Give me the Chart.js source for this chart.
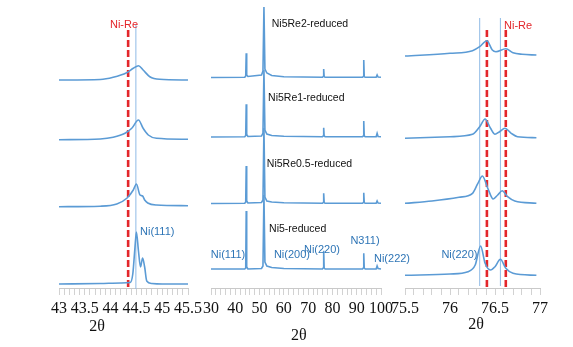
<!DOCTYPE html>
<html>
<head>
<meta charset="utf-8">
<script src="https://cdn.jsdelivr.net/npm/chart.js@4/dist/chart.umd.min.js"></script>
<style>
  html, body { margin: 0; padding: 0; background: #ffffff; }
  #wrap { position: relative; width: 573px; height: 347px; overflow: hidden; }
  canvas { position: absolute; top: 0; }
</style>
</head>
<body>
<div id="wrap">
  <canvas id="c1" width="189" height="347" style="left:29px"></canvas>
  <canvas id="c2" width="230" height="347" style="left:181px"></canvas>
  <canvas id="c3" width="195" height="347" style="left:375px"></canvas>
</div>
<script>
// ---------------- DATA ----------------
const seriesNames = ['Ni5-reduced', 'Ni5Re0.5-reduced', 'Ni5Re1-reduced', 'Ni5Re2-reduced'];
const axisTitle = '2θ';

// Panel 1: Ni(111) region, 2θ 43–45.5 (intensity a.u., offset stacked)
const p1Ni5X    = [43.0, 43.8, 44.2, 44.38, 44.43, 44.47, 44.50, 44.54, 44.58, 44.62, 44.66, 44.70, 44.8, 45.0, 45.5];
const p1Ni5Y    = [5, 5.5, 6, 6.5, 15, 40, 57, 38, 22, 31, 22, 8, 5.5, 5, 5];
const p1Re05X   = [43.0, 43.8, 44.12, 44.32, 44.44, 44.50, 44.57, 44.62, 44.66, 44.72, 44.89, 45.5];
const p1Re05Y   = [82.3, 82.8, 85, 91, 99, 105, 94, 93, 89, 86, 84, 83.3];
const p1Re1X    = [43.0, 43.8, 44.05, 44.28, 44.41, 44.54, 44.63, 44.73, 44.89, 45.5];
const p1Re1Y    = [149.3, 150, 151.7, 155.7, 160.7, 169, 160.7, 154, 150.7, 149.7];
const p1Re2X    = [43.0, 43.8, 44.05, 44.31, 44.44, 44.54, 44.63, 44.76, 44.95, 45.5];
const p1Re2Y    = [209, 209.5, 211.7, 216.3, 220.7, 223.3, 219, 212.3, 209.7, 209];
const p1NiReLine = 44.34;   // red dashed reference
const p1NiLine   = 44.49;   // thin blue reference
const p1Ticks = ['43', '43.5', '44', '44.5', '45', '45.5'];

// Panel 2: full pattern, 2θ 30–100
const p2Theta = [30, 43.9, 44.3, 44.5, 44.7, 45.2, 50.8, 51.4, 51.8, 52.2, 53.0, 55.0, 60.0, 75.9, 76.2, 76.4, 76.6, 77.0, 92.4, 92.7, 92.9, 93.1, 93.5, 98.0, 98.4, 98.8, 100];
const p2Ni5  = [20, 20, 21, 78, 22, 20, 20.5, 23, 94, 27, 23, 21.5, 20.5, 20, 21, 38.3, 21, 20, 20, 21, 35.7, 21, 20, 20, 23, 20.5, 20];
const p2Re05 = [85.5, 85.7, 87, 123, 88, 86, 86.5, 89, 161, 92, 88, 87, 86.3, 85.7, 86.5, 95.7, 86.5, 85.7, 85.7, 86.5, 96.3, 86.5, 85.7, 85.7, 88, 86, 85.7];
const p2Re1  = [152, 152.3, 153.5, 184.7, 154.5, 152.5, 153, 156, 219, 159, 155, 153.5, 152.8, 152.3, 153, 161.3, 153, 152.3, 152.3, 153, 168, 153, 152.3, 152.3, 155.7, 152.5, 152.3];
const p2Re2  = [211.5, 211.7, 213, 235.7, 214, 212.5, 214, 218, 282, 220, 216, 213.5, 212.3, 211.7, 212.5, 220, 212.5, 211.7, 211.7, 212.5, 229, 212.5, 211.7, 211.7, 214, 212, 211.7];
const p2Ticks = ['30', '40', '50', '60', '70', '80', '90', '100'];
const p2Peaks = ['Ni(111)', 'Ni(200)', 'Ni(220)', 'N311)', 'Ni(222)'];

// Panel 3: Ni(220) region, 2θ 75.5–77
const p3Ni5X  = [75.5, 76.0, 76.2, 76.28, 76.34, 76.39, 76.45, 76.5, 76.56, 76.62, 76.7, 76.96];
const p3Ni5Y  = [13.7, 15, 17.3, 24, 43, 25.7, 19, 22.3, 29.7, 20.7, 15.7, 13.7];
const p3Re05X = [75.5, 75.8, 76.1, 76.25, 76.31, 76.36, 76.42, 76.48, 76.53, 76.58, 76.64, 76.72, 76.96];
const p3Re05Y = [85.7, 88, 91.7, 95.7, 105.7, 113, 100.7, 90, 94, 98.3, 92.3, 88, 85.7];
const p3Re1X  = [75.5, 76.0, 76.25, 76.33, 76.39, 76.45, 76.5, 76.55, 76.61, 76.68, 76.75, 76.96];
const p3Re1Y  = [150.7, 152.3, 154.7, 162.3, 170, 160.7, 154.7, 157.3, 160.7, 155.7, 152.3, 151.3];
const p3Re2X  = [75.5, 76.0, 76.25, 76.33, 76.41, 76.47, 76.51, 76.62, 76.7, 76.8, 76.96];
const p3Re2Y  = [233, 235.7, 238.3, 242.3, 248.3, 239, 237.3, 240.3, 236.3, 234.7, 234];
const p3NiLines   = [76.33, 76.56];
const p3NiReLines = [76.41, 76.62];
const p3Ticks = ['75.5', '76', '76.5', '77'];

// ---------------- STYLE ----------------
const CURVE = '#5b9bd5';
const THIN = '#8fbbe6';
const RED = '#e3262b';
const LABEL_BLUE = '#2e75b6';
const SERIF = '"Liberation Serif", "Times New Roman", serif';
const SANS = '"Liberation Sans", Arial, sans-serif';

function pts(xs, ys) { return xs.map((x, i) => ({ x: x, y: ys[i] })); }
function curve(xs, ys, smooth) {
  return { data: pts(xs, ys), borderColor: CURVE, borderWidth: 1.6, pointRadius: 0,
           cubicInterpolationMode: smooth ? 'monotone' : 'default', tension: smooth ? 0.4 : 0, clip: false };
}
function vline(x, y0, y1, red) {
  return { data: [{ x: x, y: y0 }, { x: x, y: y1 }], borderColor: red ? RED : THIN,
           borderWidth: red ? 2.6 : 1, borderDash: red ? [7, 3] : [], pointRadius: 0, clip: false };
}

const notesPlugin = {
  id: 'notes',
  afterDatasetsDraw(chart, args, opts) {
    const ctx = chart.ctx, xs = chart.scales.x, ys = chart.scales.y;
    (opts.items || []).forEach(it => {
      ctx.save();
      ctx.font = it.font;
      ctx.fillStyle = it.color;
      ctx.textAlign = it.align || 'left';
      ctx.textBaseline = 'middle';
      const px = xs.getPixelForValue(it.x);
      const py = it.py !== undefined ? it.py : ys.getPixelForValue(it.y);
      ctx.fillText(it.text, px, py);
      ctx.restore();
    });
  }
};

function makeChart(id, datasets, xmin, xmax, step, labels, notes) {
  const isLabel = v => labels.indexOf(String(Number(v.toFixed(2)))) >= 0;
  return new Chart(document.getElementById(id), {
    type: 'line',
    data: { datasets: datasets },
    options: {
      responsive: false, animation: false, devicePixelRatio: 1,
      layout: { padding: { left: 30, right: 30, top: 5, bottom: 0 } },
      plugins: { legend: { display: false }, tooltip: { enabled: false }, notes: { items: notes } },
      scales: {
        x: {
          type: 'linear', min: xmin, max: xmax,
          border: { display: true, color: '#c9c9c9', width: 1 },
          grid: { drawOnChartArea: false, drawTicks: true, tickLength: 7, color: '#d2d2d2' },
          ticks: {
            stepSize: step, autoSkip: false, maxRotation: 0, padding: 4,
            color: '#111', font: { family: SERIF, size: 16 },
            callback: v => isLabel(v) ? String(Number(v.toFixed(2))) : ''
          },
          afterFit: s => { s.height = 59; }
        },
        y: { display: false, min: 1, max: 284 }
      }
    },
    plugins: [notesPlugin]
  });
}

// Panel 1
makeChart('c1', [
  curve(p1Ni5X, p1Ni5Y, true), curve(p1Re05X, p1Re05Y, true),
  curve(p1Re1X, p1Re1Y, true), curve(p1Re2X, p1Re2Y, true),
  vline(p1NiLine, 0, 264, false), vline(p1NiReLine, 2, 259, true)
], 43, 45.5, 0.1, p1Ticks, [
  { text: 'Ni-Re', x: 44.26, y: 264, font: '11px ' + SANS, color: RED, align: 'center' },
  { text: 'Ni(111)', x: 44.57, y: 57, font: '11px ' + SANS, color: LABEL_BLUE, align: 'left' },
  { text: axisTitle, x: 43.74, py: 327, font: '16px ' + SERIF, color: '#111', align: 'center' }
]);

// Panel 2
makeChart('c2', [
  curve(p2Theta, p2Ni5, false), curve(p2Theta, p2Re05, false),
  curve(p2Theta, p2Re1, false), curve(p2Theta, p2Re2, false)
], 30, 100, 2, p2Ticks, [
  { text: seriesNames[3], x: 55.0, y: 265, font: '10.5px ' + SANS, color: '#111', align: 'left' },
  { text: seriesNames[2], x: 53.5, y: 191, font: '10.5px ' + SANS, color: '#111', align: 'left' },
  { text: seriesNames[1], x: 53.0, y: 125, font: '10.5px ' + SANS, color: '#111', align: 'left' },
  { text: seriesNames[0], x: 53.9, y: 60, font: '10.5px ' + SANS, color: '#111', align: 'left' },
  { text: p2Peaks[0], x: 37.0, y: 34, font: '11px ' + SANS, color: LABEL_BLUE, align: 'center' },
  { text: p2Peaks[1], x: 55.9, y: 34, font: '11px ' + SANS, color: LABEL_BLUE, align: 'left' },
  { text: p2Peaks[2], x: 75.7, y: 39, font: '11px ' + SANS, color: LABEL_BLUE, align: 'center' },
  { text: p2Peaks[3], x: 93.4, y: 48, font: '11px ' + SANS, color: LABEL_BLUE, align: 'center' },
  { text: p2Peaks[4], x: 97.1, y: 30, font: '11px ' + SANS, color: LABEL_BLUE, align: 'left' },
  { text: axisTitle, x: 66.2, py: 336, font: '16px ' + SERIF, color: '#111', align: 'center' }
]);

// Panel 3
makeChart('c3', [
  curve(p3Ni5X, p3Ni5Y, true), curve(p3Re05X, p3Re05Y, true),
  curve(p3Re1X, p3Re1Y, true), curve(p3Re2X, p3Re2Y, true),
  vline(p3NiLines[0], 3, 271, false), vline(p3NiLines[1], 3, 271, false),
  vline(p3NiReLines[0], 2, 259, true), vline(p3NiReLines[1], 2, 259, true)
], 75.5, 77, 0.1, p3Ticks, [
  { text: 'Ni-Re', x: 76.6, y: 263, font: '11px ' + SANS, color: RED, align: 'left' },
  { text: 'Ni(220)', x: 76.105, y: 34, font: '11px ' + SANS, color: LABEL_BLUE, align: 'center' },
  { text: axisTitle, x: 76.29, py: 325, font: '16px ' + SERIF, color: '#111', align: 'center' }
]);
</script>
</body>
</html>
